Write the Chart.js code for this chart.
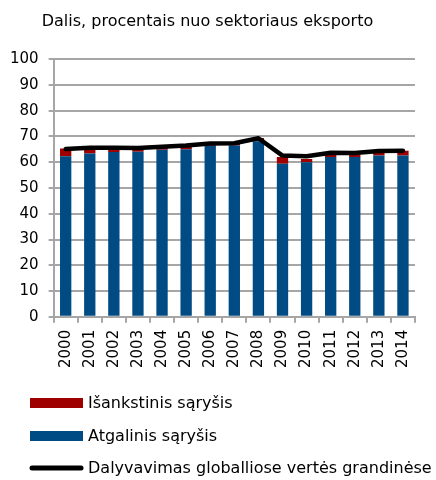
<!DOCTYPE html>
<html>
<head>
<meta charset="utf-8">
<script src="https://cdn.jsdelivr.net/npm/chart.js@4/dist/chart.umd.min.js"></script>
<style>
  html, body { margin: 0; padding: 0; background: #fff; }
  #boite { width: 436px; height: 480px; }
</style>
</head>
<body>
<div id="boite"><canvas id="a"></canvas></div>
<script>
const annees = ["2000", "2001", "2002", "2003", "2004", "2005", "2006", "2007", "2008", "2009", "2010", "2011", "2012", "2013", "2014"];
const atgalinis = [62.3, 63.4, 64.0, 64.1, 64.9, 65.0, 66.4, 66.5, 68.2, 59.4, 60.0, 62.0, 62.0, 62.6, 62.6];
const isankstinis = [3.0, 1.4, 0.9, 0.8, 0.7, 1.0, 0.5, 0.7, 1.2, 2.6, 1.3, 1.0, 1.0, 1.1, 1.9];
const dalyvavimas = [65.1, 65.6, 65.6, 65.5, 66.0, 66.5, 67.3, 67.4, 69.3, 62.6, 62.3, 63.7, 63.6, 64.4, 64.5];
const yTicks = [0, 10, 20, 30, 40, 50, 60, 70, 80, 90, 100];

const police = "'DejaVu Sans', Verdana, sans-serif";
const gris = "#a6a6a6";

// legende dessinee a la main, un element par ligne
const legendeMaison = {
  id: "legendeMaison",
  afterDraw(chart) {
    const ctx = chart.ctx;
    const ordre = [2, 1, 0];
    const lignesY = [403, 436, 468];
    ctx.save();
    ctx.font = "16px " + police;
    ctx.textBaseline = "middle";
    ordre.forEach((idx, i) => {
      const ds = chart.data.datasets[idx];
      const y = lignesY[i];
      if (ds.type === "line") {
        ctx.strokeStyle = ds.borderColor;
        ctx.lineWidth = 5;
        ctx.lineCap = "round";
        ctx.beginPath();
        ctx.moveTo(32, y);
        ctx.lineTo(81, y);
        ctx.stroke();
      } else {
        ctx.fillStyle = ds.backgroundColor;
        ctx.fillRect(30, y - 5, 53, 10);
      }
      ctx.fillStyle = "#000";
      ctx.fillText(ds.label, 88, y + 1);
    });
    ctx.restore();
  },
};

new Chart(document.querySelector("#a").getContext("2d"), {
  data: {
    labels: annees,
    datasets: [
      {
        type: "line",
        label: "Dalyvavimas globalliose vertės grandinėse",
        data: dalyvavimas,
        borderColor: "#000",
        borderWidth: 4.5,
        borderCapStyle: "round",
        borderJoinStyle: "round",
        pointRadius: 0,
        tension: 0,
        stack: "ligne",
        order: 0,
      },
      {
        type: "bar",
        label: "Atgalinis sąryšis",
        data: atgalinis,
        backgroundColor: "#004b84",
        barPercentage: 0.47,
        categoryPercentage: 1,
        stack: "barres",
        order: 1,
      },
      {
        type: "bar",
        label: "Išankstinis sąryšis",
        data: isankstinis,
        backgroundColor: "#9e0000",
        barPercentage: 0.47,
        categoryPercentage: 1,
        stack: "barres",
        order: 1,
      },
    ],
  },
  options: {
    responsive: true,
    maintainAspectRatio: false,
    animation: false,
    layout: { padding: { left: 0, right: 21, top: 0, bottom: 105 } },
    plugins: {
      title: {
        display: true,
        text: "Dalis, procentais nuo sektoriaus eksporto",
        color: "#000",
        font: { family: police, size: 16, weight: "400" },
        padding: { top: 12, bottom: 28 },
      },
      legend: { display: false },
      tooltip: { enabled: false },
    },
    scales: {
      x: {
        stacked: true,
        offset: true,
        grid: {
          display: true,
          offset: true,
          drawOnChartArea: false,
          drawTicks: true,
          tickLength: 6,
          color: gris,
          lineWidth: 2,
        },
        border: { color: gris, width: 2 },
        ticks: {
          color: "#000",
          font: { family: police, size: 15 },
          minRotation: 90,
          maxRotation: 90,
          padding: 7,
          autoSkip: false,
        },
      },
      y: {
        stacked: true,
        min: 0,
        max: 100,
        afterBuildTicks(axis) {
          axis.ticks = yTicks.map((v) => ({ value: v }));
        },
        grid: {
          color: gris,
          lineWidth: 2,
          tickLength: 5,
        },
        border: { color: gris, width: 2 },
        ticks: {
          color: "#000",
          font: { family: police, size: 15 },
          padding: 10,
        },
      },
    },
  },
  plugins: [legendeMaison],
});
</script>
</body>
</html>
